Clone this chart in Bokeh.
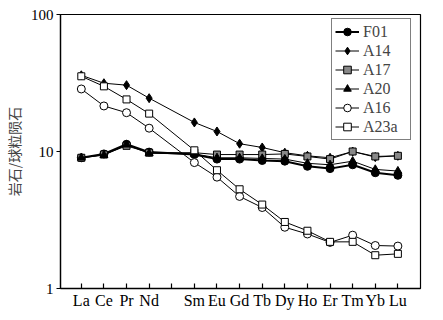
from bokeh.plotting import figure
from bokeh.models import FixedTicker, Legend, LegendItem, Range1d
from bokeh.embed import file_html
from bokeh.resources import INLINE

# REE order (Pm is a gap on the axis, no data)
axis_elements = ["La", "Ce", "Pr", "Nd", "Pm", "Sm", "Eu", "Gd", "Tb", "Dy", "Ho", "Er", "Tm", "Yb", "Lu"]
data_elements = ["La", "Ce", "Pr", "Nd", "Sm", "Eu", "Gd", "Tb", "Dy", "Ho", "Er", "Tm", "Yb", "Lu"]

F01 = [9.0, 9.6, 11.3, 9.9, 9.5, 8.8, 8.8, 8.6, 8.5, 7.8, 7.5, 8.0, 7.0, 6.7]
A14 = [36.0, 31.5, 30.5, 24.5, 16.3, 14.0, 11.4, 10.7, 9.8, 9.3, 9.0, 10.0, 9.1, 9.3]
A17 = [9.0, 9.5, 11.0, 9.8, 9.8, 9.5, 9.5, 9.5, 9.6, 9.2, 8.8, 10.0, 9.2, 9.3]
A20 = [9.0, 9.4, 11.2, 9.7, 9.6, 9.0, 9.0, 8.9, 8.8, 8.2, 8.0, 8.5, 7.4, 7.2]
A16 = [28.6, 21.5, 19.2, 14.8, 8.3, 6.5, 4.7, 3.9, 2.8, 2.5, 2.17, 2.45, 2.06, 2.04]
A23a = [35.4, 29.9, 24.0, 18.9, 10.2, 7.3, 5.3, 4.1, 3.06, 2.64, 2.19, 2.19, 1.75, 1.79]

y_ticks = [1, 10, 100]

xpos = [axis_elements.index(e) + 1 for e in data_elements]

p = figure(width=430, height=312, y_axis_type="log", output_backend="svg",
           toolbar_location=None, x_range=Range1d(0.08, 16.0), y_range=Range1d(1, 100),
           min_border_left=54, min_border_top=14, min_border_right=10, min_border_bottom=24)
p.background_fill_color = "white"
p.border_fill_color = "white"
p.grid.visible = False
p.outline_line_color = "black"
p.outline_line_width = 1.2

serif = "Liberation Serif"
p.xaxis.ticker = FixedTicker(ticks=list(range(1, len(axis_elements) + 1)))
p.xaxis.major_label_overrides = {i + 1: ("" if e == "Pm" else e) for i, e in enumerate(axis_elements)}
p.xaxis.major_tick_in = 5
p.xaxis.major_tick_out = 0
p.xaxis.minor_tick_line_color = None
p.xaxis.major_label_text_font = serif
p.xaxis.major_label_text_font_size = "16px"
p.xaxis.major_label_standoff = 3

p.yaxis.ticker = FixedTicker(ticks=y_ticks)
p.yaxis.major_label_overrides = {t: str(t) for t in y_ticks}
p.yaxis.major_tick_in = 0
p.yaxis.major_tick_out = 4
p.yaxis.minor_tick_line_color = None
p.yaxis.major_label_text_font = serif
p.yaxis.major_label_text_font_size = "15px"
p.yaxis.major_label_standoff = 3
p.yaxis.axis_label = "岩石/球粒陨石"
p.yaxis.axis_label_text_font = "Noto Sans CJK SC"
p.yaxis.axis_label_text_font_size = "14px"
p.yaxis.axis_label_text_font_style = "normal"
p.yaxis.axis_label_standoff = 4

for ax in (p.xaxis, p.yaxis):
    ax.axis_line_width = 1.3
    ax.major_tick_line_width = 1.2
    ax.major_label_text_color = "black"

series = [
    ("F01", F01, "circle", "black", 8, 2.0),
    ("A14", A14, "diamond", "black", 9, 1.0),
    ("A17", A17, "square", "#888888", 7, 1.0),
    ("A20", A20, "triangle", "black", 8, 1.0),
    ("A16", A16, "circle", "white", 8, 1.0),
    ("A23a", A23a, "square", "white", 7, 1.0),
]

items = []
for name, vals, marker, fill, size, lw in series:
    r1 = p.line(xpos, vals, line_color="black", line_width=lw)
    r2 = p.scatter(xpos, vals, marker=marker, size=size, fill_color=fill,
                   line_color="black", line_width=1.0)
    items.append(LegendItem(label=name, renderers=[r1, r2]))

legend = Legend(items=items, location=(271, 148))
legend.label_text_font = serif
legend.label_text_font_size = "16px"
legend.border_line_color = "black"
legend.border_line_width = 1.2
legend.spacing = 0
legend.label_height = 19
legend.glyph_height = 19
legend.glyph_width = 24
legend.label_width = 44
legend.padding = 3
legend.margin = 0
legend.label_standoff = 4
p.add_layout(legend)

open("out.html", "w").write(file_html(p, INLINE))
